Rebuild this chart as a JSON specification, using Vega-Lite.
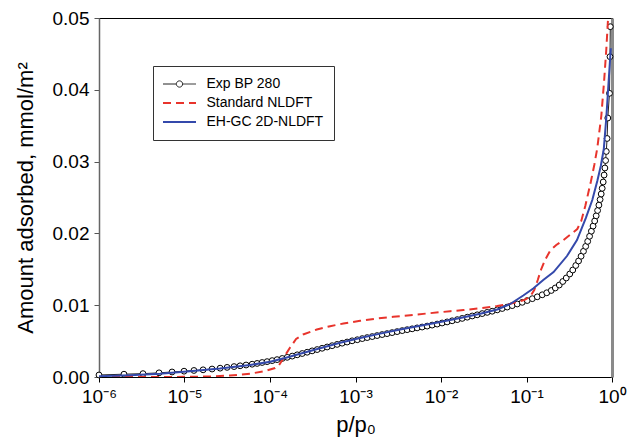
{
  "$schema": "https://vega.github.io/schema/vega-lite/v6.json",
  "width": 513,
  "height": 359,
  "autosize": {"type": "none"},
  "padding": {"left": 99, "top": 18, "right": 16, "bottom": 65},
  "config": {
    "font": "Liberation Sans",
    "view": {"stroke": "#000", "strokeWidth": 1},
    "axis": {"grid": false}
  },
  "datasets": {
    "exp": [
      {"p": 1.00e-6, "v": 0.00028}, {"p": 1.96e-6, "v": 0.00039}, {"p": 3.27e-6, "v": 0.00047},
      {"p": 5.04e-6, "v": 0.00058}, {"p": 7.15e-6, "v": 0.00070}, {"p": 9.88e-6, "v": 0.00081},
      {"p": 1.29e-5, "v": 0.00091}, {"p": 1.65e-5, "v": 0.00100}, {"p": 2.10e-5, "v": 0.00111},
      {"p": 2.61e-5, "v": 0.00123}, {"p": 3.15e-5, "v": 0.00134}, {"p": 3.80e-5, "v": 0.00145},
      {"p": 4.47e-5, "v": 0.00156}, {"p": 5.25e-5, "v": 0.00167}, {"p": 6.18e-5, "v": 0.00178},
      {"p": 7.07e-5, "v": 0.00189}, {"p": 8.09e-5, "v": 0.00202}, {"p": 9.25e-5, "v": 0.00214},
      {"p": 1.06e-4, "v": 0.00228}, {"p": 1.21e-4, "v": 0.00242}, {"p": 1.39e-4, "v": 0.00258},
      {"p": 1.59e-4, "v": 0.00274}, {"p": 1.82e-4, "v": 0.00291}, {"p": 2.08e-4, "v": 0.00309},
      {"p": 2.38e-4, "v": 0.00327}, {"p": 2.72e-4, "v": 0.00345}, {"p": 3.11e-4, "v": 0.00364},
      {"p": 3.56e-4, "v": 0.00382}, {"p": 4.07e-4, "v": 0.00400}, {"p": 4.66e-4, "v": 0.00418},
      {"p": 5.33e-4, "v": 0.00436}, {"p": 6.10e-4, "v": 0.00454}, {"p": 6.98e-4, "v": 0.00471},
      {"p": 7.98e-4, "v": 0.00487}, {"p": 9.13e-4, "v": 0.00504}, {"p": 1.05e-3, "v": 0.00519},
      {"p": 1.20e-3, "v": 0.00535}, {"p": 1.37e-3, "v": 0.00549}, {"p": 1.57e-3, "v": 0.00563},
      {"p": 1.79e-3, "v": 0.00577}, {"p": 2.05e-3, "v": 0.00591}, {"p": 2.34e-3, "v": 0.00604},
      {"p": 2.68e-3, "v": 0.00618}, {"p": 3.07e-3, "v": 0.00632}, {"p": 3.52e-3, "v": 0.00646},
      {"p": 4.02e-3, "v": 0.00659}, {"p": 4.60e-3, "v": 0.00671}, {"p": 5.26e-3, "v": 0.00684},
      {"p": 6.02e-3, "v": 0.00696}, {"p": 6.89e-3, "v": 0.00709}, {"p": 7.88e-3, "v": 0.00723},
      {"p": 9.02e-3, "v": 0.00737}, {"p": 1.03e-2, "v": 0.00752}, {"p": 1.18e-2, "v": 0.00767},
      {"p": 1.35e-2, "v": 0.00783}, {"p": 1.55e-2, "v": 0.00799}, {"p": 1.77e-2, "v": 0.00816},
      {"p": 2.03e-2, "v": 0.00833}, {"p": 2.32e-2, "v": 0.00850}, {"p": 2.65e-2, "v": 0.00866},
      {"p": 3.03e-2, "v": 0.00883}, {"p": 3.47e-2, "v": 0.00900}, {"p": 3.97e-2, "v": 0.00916},
      {"p": 4.55e-2, "v": 0.00935}, {"p": 5.20e-2, "v": 0.00954}, {"p": 5.95e-2, "v": 0.00974},
      {"p": 6.81e-2, "v": 0.00994}, {"p": 7.79e-2, "v": 0.01017}, {"p": 8.92e-2, "v": 0.01040},
      {"p": 0.102, "v": 0.01065}, {"p": 0.117, "v": 0.01091}, {"p": 0.1336, "v": 0.01117},
      {"p": 0.1528, "v": 0.01145}, {"p": 0.1726, "v": 0.01173}, {"p": 0.1949, "v": 0.01205},
      {"p": 0.2171, "v": 0.01240}, {"p": 0.2417, "v": 0.01281}, {"p": 0.2657, "v": 0.01330},
      {"p": 0.2918, "v": 0.01379}, {"p": 0.3208, "v": 0.01435}, {"p": 0.3477, "v": 0.01490},
      {"p": 0.3771, "v": 0.01553}, {"p": 0.4065, "v": 0.01616}, {"p": 0.4348, "v": 0.01682},
      {"p": 0.4638, "v": 0.01751}, {"p": 0.4923, "v": 0.01819}, {"p": 0.5195, "v": 0.01889},
      {"p": 0.5469, "v": 0.01960}, {"p": 0.5740, "v": 0.02031}, {"p": 0.6009, "v": 0.02102},
      {"p": 0.6273, "v": 0.02173}, {"p": 0.6533, "v": 0.02245}, {"p": 0.6785, "v": 0.02319},
      {"p": 0.7026, "v": 0.02394}, {"p": 0.7257, "v": 0.02471}, {"p": 0.7476, "v": 0.02549},
      {"p": 0.7680, "v": 0.02628}, {"p": 0.7889, "v": 0.02716}, {"p": 0.8082, "v": 0.02813},
      {"p": 0.8259, "v": 0.02911}, {"p": 0.8415, "v": 0.03015}, {"p": 0.8576, "v": 0.03141},
      {"p": 0.8763, "v": 0.03322}, {"p": 0.8932, "v": 0.03607}, {"p": 0.9348, "v": 0.03951},
      {"p": 0.9475, "v": 0.04461}, {"p": 0.9552, "v": 0.04879}
    ],
    "standard": [
      {"p": 1e-6, "v": 0}, {"p": 3.95e-6, "v": 0}, {"p": 9.88e-6, "v": 0.00002},
      {"p": 1.99e-5, "v": 0.00007}, {"p": 3.41e-5, "v": 0.00021}, {"p": 5.85e-5, "v": 0.00045},
      {"p": 8.76e-5, "v": 0.00084}, {"p": 1.147e-4, "v": 0.00125}, {"p": 1.278e-4, "v": 0.00167},
      {"p": 1.462e-4, "v": 0.00279}, {"p": 1.718e-4, "v": 0.00411}, {"p": 2.02e-4, "v": 0.00529},
      {"p": 2.44e-4, "v": 0.00592}, {"p": 3.53e-4, "v": 0.00662}, {"p": 5.05e-4, "v": 0.00708},
      {"p": 7.23e-4, "v": 0.00745}, {"p": 1.133e-3, "v": 0.00783}, {"p": 1.778e-3, "v": 0.00815},
      {"p": 2.758e-3, "v": 0.00838}, {"p": 4.36e-3, "v": 0.00861}, {"p": 7.47e-3, "v": 0.00889},
      {"p": 1.281e-2, "v": 0.00916}, {"p": 1.834e-2, "v": 0.00933}, {"p": 2.876e-2, "v": 0.00957},
      {"p": 4.547e-2, "v": 0.00989}, {"p": 6.454e-2, "v": 0.01019}, {"p": 7.79e-2, "v": 0.01045},
      {"p": 9.41e-2, "v": 0.01072}, {"p": 0.1106, "v": 0.01121}, {"p": 0.1232, "v": 0.01212},
      {"p": 0.1354, "v": 0.01351}, {"p": 0.1488, "v": 0.01504}, {"p": 0.1658, "v": 0.01636},
      {"p": 0.1896, "v": 0.01762}, {"p": 0.2229, "v": 0.01838}, {"p": 0.2715, "v": 0.01908},
      {"p": 0.3552, "v": 0.02019}, {"p": 0.3926, "v": 0.02061}, {"p": 0.4371, "v": 0.02173},
      {"p": 0.4870, "v": 0.02382}, {"p": 0.5648, "v": 0.02716}, {"p": 0.6207, "v": 0.02953},
      {"p": 0.6730, "v": 0.03189}, {"p": 0.7496, "v": 0.03635}, {"p": 0.8062, "v": 0.04102},
      {"p": 0.8576, "v": 0.04561}, {"p": 0.900, "v": 0.0500}
    ],
    "ehgc": [
      {"p": 1e-6, "v": 0.00011}, {"p": 2.31e-6, "v": 0.00025}, {"p": 5.17e-6, "v": 0.00045},
      {"p": 1.161e-5, "v": 0.00079}, {"p": 2.606e-5, "v": 0.00118}, {"p": 5.85e-5, "v": 0.00167},
      {"p": 1.003e-4, "v": 0.00212}, {"p": 1.502e-4, "v": 0.00265}, {"p": 2.251e-4, "v": 0.00323},
      {"p": 3.858e-4, "v": 0.00400}, {"p": 6.61e-4, "v": 0.00476}, {"p": 1.133e-3, "v": 0.00543},
      {"p": 1.943e-3, "v": 0.00604}, {"p": 3.33e-3, "v": 0.00662}, {"p": 5.71e-3, "v": 0.00713},
      {"p": 9.79e-3, "v": 0.00766}, {"p": 1.678e-2, "v": 0.00822}, {"p": 2.876e-2, "v": 0.00880},
      {"p": 4.547e-2, "v": 0.00940}, {"p": 6.454e-2, "v": 0.01017}, {"p": 9.16e-2, "v": 0.01135},
      {"p": 0.1199, "v": 0.01233}, {"p": 0.1570, "v": 0.01351}, {"p": 0.2073, "v": 0.01462},
      {"p": 0.2974, "v": 0.01685}, {"p": 0.3894, "v": 0.01908}, {"p": 0.4937, "v": 0.02214},
      {"p": 0.5882, "v": 0.02465}, {"p": 0.6730, "v": 0.02730}, {"p": 0.7395, "v": 0.02939},
      {"p": 0.8017, "v": 0.03175}, {"p": 0.8576, "v": 0.03607}, {"p": 0.9124, "v": 0.04109},
      {"p": 0.9681, "v": 0.04578}
    ]
  },
  "resolve": {"axis": {"x": "independent", "y": "independent"}},
  "layer": [
    {
      "data": {"name": "exp"},
      "mark": {"type": "line", "strokeWidth": 1, "clip": true},
      "encoding": {
        "x": {
          "field": "p", "type": "quantitative",
          "scale": {"type": "log", "domain": [1e-6, 1], "nice": false},
          "axis": {
            "values": [1e-6, 1e-5, 1e-4, 1e-3, 1e-2, 1e-1, 1],
            "labelExpr": "'10' + ['⁻⁶','⁻⁵','⁻⁴','⁻³','⁻²','⁻¹','⁰'][round(log(datum.value) / LN10) + 6]",
            "title": "p/p₀",
            "titleFontSize": 22, "titleFontWeight": "normal", "titleColor": "#000",
            "labelFontSize": 19, "labelColor": "#000", "labelFlush": false, "labelOverlap": false,
            "tickSize": 5, "tickColor": "#000", "domainColor": "#000",
            "labelPadding": 5, "titlePadding": 8
          }
        },
        "y": {
          "field": "v", "type": "quantitative",
          "scale": {"domain": [0, 0.05], "nice": false},
          "axis": {
            "values": [0, 0.01, 0.02, 0.03, 0.04, 0.05],
            "format": ".2f",
            "title": "Amount adsorbed, mmol/m²",
            "titleFontSize": 22, "titleFontWeight": "normal", "titleColor": "#000",
            "labelFontSize": 19, "labelColor": "#000", "labelFlush": false,
            "tickSize": 5, "tickColor": "#555", "domainColor": "#666", "domainWidth": 1.5,
            "labelPadding": 5, "titlePadding": 15
          }
        },
        "color": {
          "datum": "Exp BP 280",
          "scale": {
            "domain": ["Exp BP 280", "Standard NLDFT", "EH-GC 2D-NLDFT"],
            "range": ["#222222", "#e8342c", "#3449ab"]
          },
          "legend": {
            "title": null,
            "orient": "none",
            "legendX": 54,
            "legendY": 48,
            "padding": 10,
            "strokeColor": "#333",
            "fillColor": "#fff",
            "labelFontSize": 14,
            "labelColor": "#000",
            "labelOffset": 20,
            "symbolSize": 1089,
            "clipHeight": 16,
            "rowPadding": 3,
            "symbolOffset": 9.5,
            "symbolType": {"expr": "datum.value === 'Exp BP 280' ? 'M-1,0H-0.19M0.19,0A0.19,0.19,0,1,1,-0.19,0A0.19,0.19,0,1,1,0.19,0M0.19,0H1' : 'stroke'"},
            "symbolDash": {"expr": "datum.value === 'Standard NLDFT' ? [8, 5] : [1, 0]"},
            "symbolStrokeWidth": {"expr": "datum.value === 'Exp BP 280' ? 1 : 2"}
          }
        }
      }
    },
    {
      "data": {"name": "exp"},
      "mark": {"type": "point", "shape": "circle", "filled": true, "fill": "#fff", "stroke": "#000", "strokeWidth": 1, "size": 34, "opacity": 1},
      "encoding": {
        "x": {"field": "p", "type": "quantitative", "scale": {"type": "log", "domain": [1e-6, 1], "nice": false}, "axis": null},
        "y": {"field": "v", "type": "quantitative", "scale": {"domain": [0, 0.05], "nice": false}, "axis": null}
      }
    },
    {
      "data": {"name": "standard"},
      "mark": {"type": "line", "strokeWidth": 2, "strokeDash": [8, 5], "clip": true},
      "encoding": {
        "x": {
          "field": "p", "type": "quantitative",
          "scale": {"type": "log", "domain": [1e-6, 1], "nice": false},
          "axis": {"orient": "top", "labels": false, "ticks": false, "title": null, "domainColor": "#000"}
        },
        "y": {
          "field": "v", "type": "quantitative",
          "scale": {"domain": [0, 0.05], "nice": false},
          "axis": {"orient": "right", "labels": false, "ticks": false, "title": null, "domainColor": "#8a8a8a", "domainWidth": 3}
        },
        "color": {"datum": "Standard NLDFT", "legend": null}
      }
    },
    {
      "data": {"name": "ehgc"},
      "mark": {"type": "line", "strokeWidth": 2, "clip": true},
      "encoding": {
        "x": {"field": "p", "type": "quantitative", "scale": {"type": "log", "domain": [1e-6, 1], "nice": false}, "axis": null},
        "y": {"field": "v", "type": "quantitative", "scale": {"domain": [0, 0.05], "nice": false}, "axis": null},
        "color": {"datum": "EH-GC 2D-NLDFT", "legend": null}
      }
    }
  ]
}
